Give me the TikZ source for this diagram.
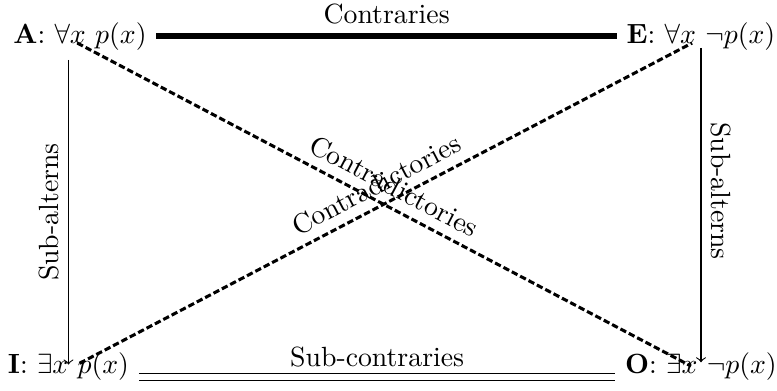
\documentclass[tikz,border=0pt]{standalone}
\usepackage{amsmath,amssymb}

\begin{document}
\begin{tikzpicture}[x=0.36pt, y=-0.36pt,
    corner/.style={anchor=base},
    contra/.style={line width=2pt},
    subcontra/.style={double, double distance=2pt},
    contradict/.style={line width=1.1pt, dash pattern=on 2.3pt off 1.1pt},
    subaltern/.style={->}]
    \useasboundingbox (0,0) rectangle (777,390);
    \node[corner] (A) at (80,43) {\textbf{A}: $\forall x\ p(x)$};
    \node[corner] (E) at (701,43) {\textbf{E}: $\forall x\ \neg p(x)$};
    \node[corner] (I) at (68.5,373) {\textbf{I}: $\exists x\ p(x)$};
    \node[corner] (O) at (701,373) {\textbf{O}: $\exists x\ \neg p(x)$};
    \draw[contra] (A) -- (E) node[midway, above] {Contraries};
    \draw[subcontra] ([yshift=-4pt]I.east) -- ([yshift=-4pt]O.west) node[midway, above] {Sub-contraries};
    \draw[subaltern] (A.south -| I.north) -- ([yshift=-8pt]I.north) node[midway, above, rotate=90] {Sub-alterns};
    \draw[subaltern] ([yshift=4.3pt]E.south) -- ([yshift=-7.2pt]O.north) node[pos=0.455, above, rotate=-90] {Sub-alterns};
    \draw[contradict] ([xshift=-1pt]A.base) -- ([xshift=-3.6pt]O.center) node[midway, sloped, above] {Contradictories};
    \draw[contradict] ([shift={(4pt,1pt)}]I.center) -- ([xshift=-3.2pt]E.base) node[midway, sloped, above] {Contradictories};
\end{tikzpicture}
\end{document}
